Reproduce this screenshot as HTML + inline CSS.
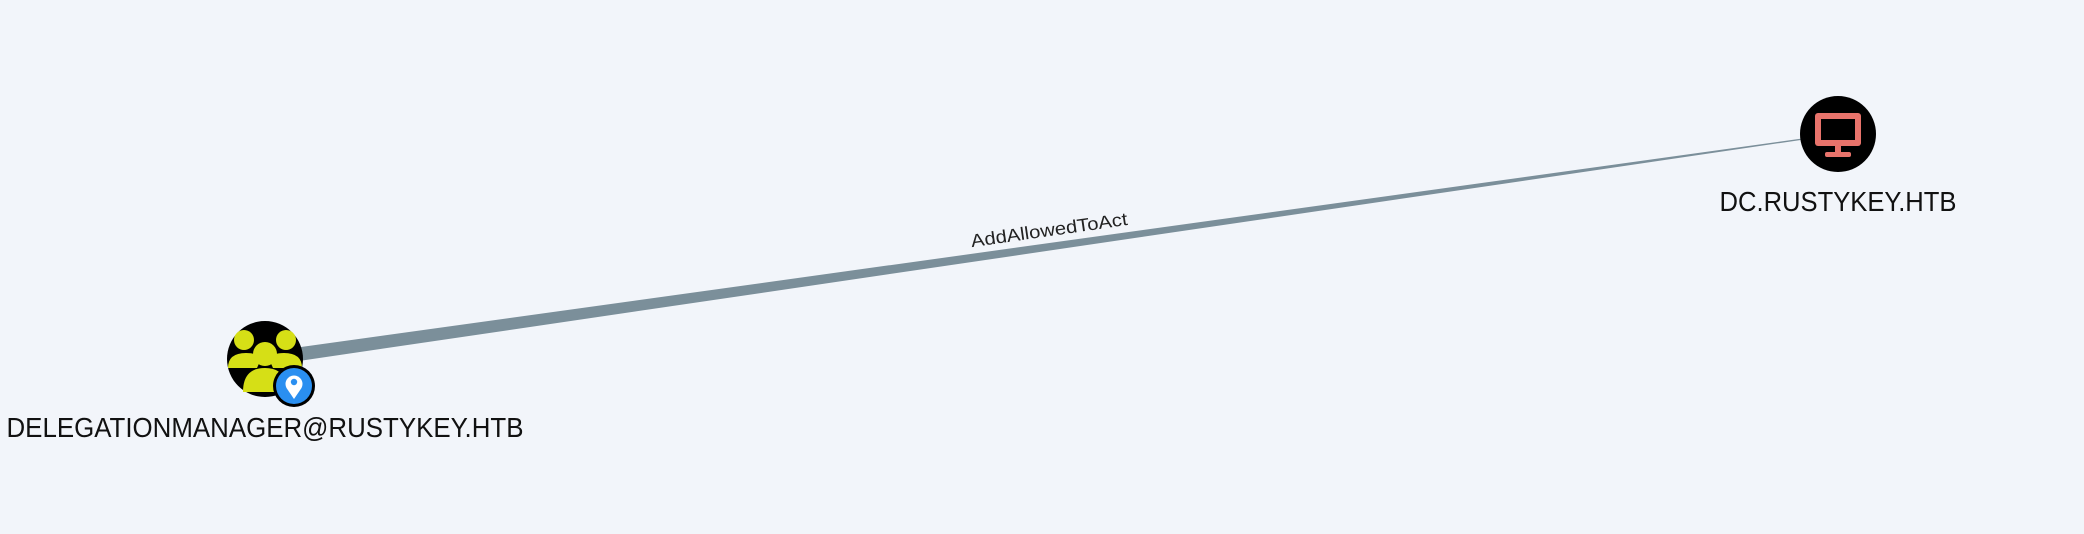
<!DOCTYPE html>
<html><head><meta charset="utf-8"><style>
html,body{margin:0;padding:0;background:#f2f5fa;}
svg{display:block;font-family:"Liberation Sans",sans-serif;}
</style></head><body>
<svg width="2084" height="534" viewBox="0 0 2084 534">
<rect width="2084" height="534" fill="#f2f5fa"/>
<polygon points="265,352 1838,133.5 1838,134.5 265,366" fill="#7b8f9a"/>
<text x="1050" y="236" font-size="18" fill="#222" text-anchor="middle" textLength="158" lengthAdjust="spacingAndGlyphs" transform="rotate(-8.14 1050 236)">AddAllowedToAct</text>
<g>
<circle cx="265" cy="359" r="38" fill="#000"/>
<g fill="#d6df16">
<circle cx="244" cy="340" r="10"/><circle cx="286" cy="340" r="10"/>
<path d="M228 368 q0 -15 18 -15 q12 0 15 6 l-4 9 z"/><path d="M302 368 q0 -15 -18 -15 q-12 0 -15 6 l4 9 z"/>
<circle cx="265" cy="354" r="12"/>
<path d="M243 392 q0 -24 22 -24 q22 0 22 24 z"/>
</g>
<circle cx="294" cy="386" r="21" fill="#000"/>
<circle cx="294" cy="386" r="18" fill="#2a8ff0"/>
<path d="M294 399 l-7.5 -11 a8.5 8.5 0 1 1 15 0 z" fill="#fff"/>
<circle cx="294" cy="382" r="3.2" fill="#2a8ff0"/>
</g>
<text x="265" y="437" font-size="28" fill="#111" text-anchor="middle" textLength="517" lengthAdjust="spacingAndGlyphs">DELEGATIONMANAGER@RUSTYKEY.HTB</text>
<g>
<circle cx="1838" cy="134" r="38" fill="#000"/>
<rect x="1815" y="113" width="46" height="33" rx="3" fill="#e8736b"/>
<rect x="1821" y="119" width="34" height="21" fill="#000"/>
<rect x="1835" y="146" width="6" height="7" fill="#e8736b"/>
<rect x="1825" y="152" width="26" height="5" rx="2" fill="#e8736b"/>
</g>
<text x="1838" y="211" font-size="28" fill="#111" text-anchor="middle" textLength="237" lengthAdjust="spacingAndGlyphs">DC.RUSTYKEY.HTB</text>
</svg>
</body></html>
